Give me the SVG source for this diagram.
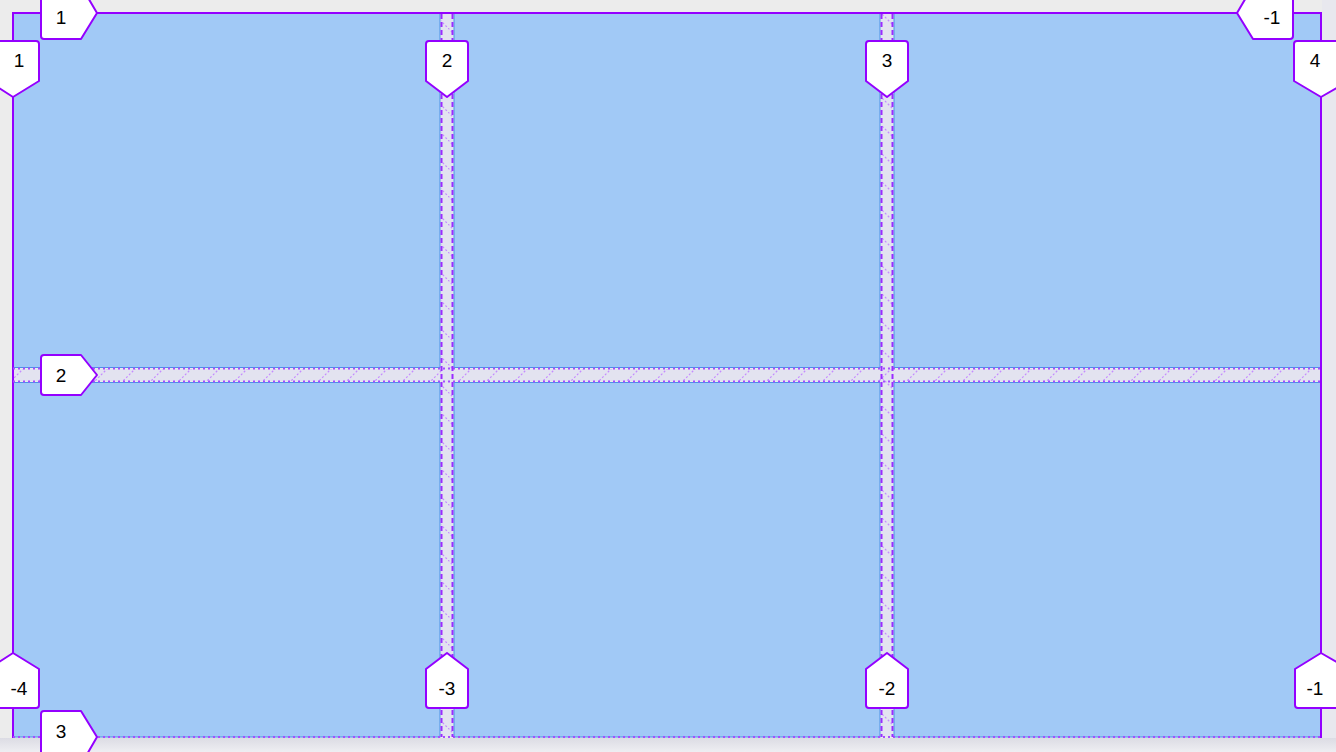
<svg xmlns="http://www.w3.org/2000/svg" width="1336" height="752" viewBox="0 0 1336 752">
  <style>
    .cell { fill: #a1c9f6; stroke: #4a93e6; stroke-width: 1; }
    .gap { fill: #e3e3f0; }
    .vdash { stroke: #9a2cff; stroke-width: 2; stroke-dasharray: 5 3; fill: none; }
    .hdot { stroke: #a64dff; stroke-width: 2; stroke-dasharray: 2 3; fill: none; }
    .solid { stroke: #9400ff; stroke-width: 2; fill: none; }
    .lbl path { fill: #ffffff; stroke: #9400ff; stroke-width: 2; stroke-linejoin: round; }
    .lbl text { font-family: "Liberation Sans", Arial, sans-serif; font-size: 19px; fill: #000; text-anchor: middle; }
  </style>
  <defs>
    <pattern id="hatchV" patternUnits="userSpaceOnUse" width="28" height="28">
      <line x1="0" y1="0" x2="28" y2="28" stroke="#c58cff" stroke-width="1.2" stroke-dasharray="2 2"/>
    </pattern>
    <pattern id="hatchH" patternUnits="userSpaceOnUse" width="28" height="28">
      <line x1="0" y1="28" x2="28" y2="0" stroke="#c58cff" stroke-width="1.2" stroke-dasharray="2 2"/>
    </pattern>
    <linearGradient id="bottomShade" x1="0" y1="0" x2="0" y2="1">
      <stop offset="0" stop-color="#dcdce4"/>
      <stop offset="1" stop-color="#eeeef2"/>
    </linearGradient>
  </defs>

  <rect x="0" y="0" width="1336" height="752" fill="#ececec"/>
  <rect x="1322" y="0" width="14" height="752" fill="#e8e8ee"/>
  <rect x="0" y="738" width="1336" height="14" fill="url(#bottomShade)"/>

  <g id="cells">
    <rect class="cell" x="13.5" y="13.5" width="426.5" height="354"/>
    <rect class="cell" x="454" y="13.5" width="426" height="354"/>
    <rect class="cell" x="894" y="13.5" width="427" height="354"/>
    <rect class="cell" x="13.5" y="382.5" width="426.5" height="354.5"/>
    <rect class="cell" x="454" y="382.5" width="426" height="354.5"/>
    <rect class="cell" x="894" y="382.5" width="427" height="354.5"/>
  </g>

  <g id="gaps">
    <rect class="gap" x="441" y="14" width="12" height="723"/>
    <rect class="gap" x="881" y="14" width="12" height="723"/>
    <rect class="gap" x="14" y="369" width="1307" height="12"/>
    <rect x="441" y="14" width="12" height="723" fill="url(#hatchV)"/>
    <rect x="881" y="14" width="12" height="723" fill="url(#hatchV)"/>
    <rect x="14" y="369" width="1307" height="12" fill="url(#hatchH)"/>
  </g>

  <g id="connectors">
    <line class="solid" x1="13" y1="13" x2="1322" y2="13"/>
    <line class="solid" x1="13" y1="12" x2="13" y2="738"/>
    <line class="solid" x1="1321" y1="12" x2="1321" y2="738"/>
    <line class="hdot" x1="13" y1="737" x2="1322" y2="737"/>
    <line class="hdot" x1="13" y1="368.5" x2="1322" y2="368.5"/>
    <line class="hdot" x1="13" y1="381.5" x2="1322" y2="381.5"/>
    <line class="vdash" x1="441.5" y1="14" x2="441.5" y2="737"/>
    <line class="vdash" x1="452.5" y1="14" x2="452.5" y2="737"/>
    <line class="vdash" x1="881.5" y1="14" x2="881.5" y2="737"/>
    <line class="vdash" x1="892.5" y1="14" x2="892.5" y2="737"/>
  </g>

  <!-- top column labels -->
  <g id="col-1-top" class="lbl">
    <path d="M -4,41 H 36 Q 39,41 39,44 V 81 L 13,97 L -4,86 Z"/>
    <text x="19" y="67">1</text>
  </g>
  <g id="col-2-top" class="lbl">
    <path d="M 426,44 Q 426,41 429,41 H 465 Q 468,41 468,44 V 81 L 447,97 L 426,81 Z"/>
    <text x="447" y="67">2</text>
  </g>
  <g id="col-3-top" class="lbl">
    <path d="M 866,44 Q 866,41 869,41 H 905 Q 908,41 908,44 V 81 L 887,97 L 866,81 Z"/>
    <text x="887" y="67">3</text>
  </g>
  <g id="col-4-top" class="lbl">
    <path d="M 1294,44 Q 1294,41 1297,41 H 1340 V 86 L 1321,97 L 1294,81 Z"/>
    <text x="1315" y="67">4</text>
  </g>

  <!-- bottom column labels -->
  <g id="col-n4-bottom" class="lbl">
    <path d="M 13,653 L 39,669 V 705 Q 39,708 36,708 H -4 V 664 Z"/>
    <text x="19" y="695">-4</text>
  </g>
  <g id="col-n3-bottom" class="lbl">
    <path d="M 447,653 L 468,669 V 705 Q 468,708 465,708 H 429 Q 426,708 426,705 V 669 Z"/>
    <text x="447" y="695">-3</text>
  </g>
  <g id="col-n2-bottom" class="lbl">
    <path d="M 887,653 L 908,669 V 705 Q 908,708 905,708 H 869 Q 866,708 866,705 V 669 Z"/>
    <text x="887" y="695">-2</text>
  </g>
  <g id="col-n1-bottom" class="lbl">
    <path d="M 1321,653 L 1340,664 V 708 H 1298 Q 1295,708 1295,705 V 669 Z"/>
    <text x="1315" y="695">-1</text>
  </g>

  <!-- row labels -->
  <g id="row-1-left" class="lbl">
    <path d="M 41,-4 H 87 L 97,13 L 81,39 H 44 Q 41,39 41,36 Z"/>
    <text x="61" y="24">1</text>
  </g>
  <g id="row-2-left" class="lbl">
    <path d="M 41,358 Q 41,355 44,355 H 81 L 97,375 L 81,395 H 44 Q 41,395 41,392 Z"/>
    <text x="61" y="382">2</text>
  </g>
  <g id="row-3-left" class="lbl">
    <path d="M 41,714 Q 41,711 44,711 H 81 L 97,737 L 86,756 H 41 Z"/>
    <text x="61" y="738">3</text>
  </g>
  <g id="row-n1-right" class="lbl">
    <path d="M 1293,-4 V 36 Q 1293,39 1290,39 H 1253 L 1237,13 L 1247,-4 Z"/>
    <text x="1272" y="24">-1</text>
  </g>
</svg>
